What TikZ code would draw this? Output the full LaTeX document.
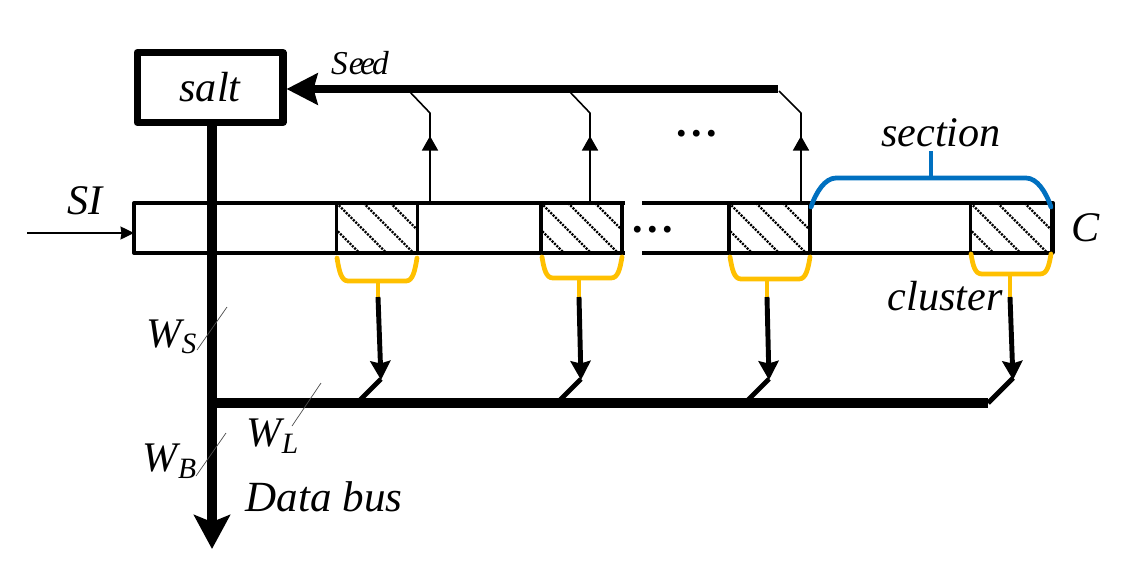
\documentclass[tikz,border=0pt]{standalone}
\usepackage{fontspec}
\setmainfont{Liberation Serif}
\usetikzlibrary{arrows.meta}
\definecolor{clyellow}{RGB}{255,192,0}
\definecolor{secblue}{RGB}{0,112,192}

\begin{document}
\begin{tikzpicture}[x=0.02cm,y=-0.02cm,line join=round,
  lbl/.style={font=\fontsize{24}{28}\selectfont\itshape,inner sep=0pt},
  dotlbl/.style={font=\fontsize{24}{28}\selectfont\bfseries,inner sep=0pt},
  reg/.style={line width=1.9},
  thin/.style={line width=0.9},
  mainbus/.style={line width=5.2},
  tap/.style={line width=2.8},
  slash/.style={line width=0.4,black!70},
  ybrace/.style={line width=2.7,clyellow,line cap=round},
  bbrace/.style={line width=2.7,secblue,line cap=round},
  cell/.style={draw,line width=1.9,minimum width=1.62cm,minimum height=1cm,inner sep=0pt,outer sep=0pt,
    path picture={\foreach \d in {-27,0,27,54}{
      \draw[line width=1.3,dash pattern=on 1.2pt off 0.7pt]
        ([xshift=\d*0.02cm]path picture bounding box.north west) -- ++(70,70);}}}]
\useasboundingbox (0,0) rectangle (1142,582);
% register, broken in the middle
\coordinate (regtl) at (134,203);
\coordinate (regbl) at (134,253);
\coordinate (regtr) at (1053,203);
\coordinate (regbr) at (1053,253);
\draw[reg] (625,203) -- (regtl) -- (regbl) -- (625,253);
\draw[reg] (642,203) -- (regtr) -- (regbr) -- (642,253);
\node[cell] (cell1) at (377,228) {};
\node[cell] (cell2) at (581.5,228) {};
\node[cell] (cell3) at (769.5,228) {};
\node[cell] (cell4) at (1011,228) {};
% salt box and the two thick buses
\node[draw,line width=4,minimum width=2.92cm,minimum height=1.4cm,inner sep=0pt,font=\fontsize{24}{28}\selectfont\itshape] (salt) at (210,87.5) {salt};
\coordinate (busend) at (212,549);
\coordinate (busjoint) at (212,403);
\coordinate (lineend) at (988,403);
\coordinate (seedend) at (778,89);
\draw[mainbus,-{Stealth[length=0.68cm,width=0.72cm,inset=0.14cm]}] (212,119) -- (busend);
\draw[mainbus] (busjoint) -- (lineend);
\draw[line width=4,-{Stealth[length=0.62cm,width=0.62cm,inset=0.08cm]}] (seedend) -- (salt.east |- seedend);
% yellow clusters and read side
\foreach \i/\lx/\rx/\ty/\by/\ax/\ex in {1/337/417/258/281/378/381,2/542/622/257/278/579/581,3/730/810/257/279/767/769,4/971/1051/254/274/1010/1013}{
  \coordinate (cbase\i) at (\ax,\by);
  \coordinate (cstem\i) at (\ax,297);
  \coordinate (ctip\i) at (\ex,380);
  \draw[ybrace] (\lx,\ty) .. controls (\lx+2,\ty+12) and (\lx+4,\by) .. (\lx+11,\by) -- (\rx-11,\by) .. controls (\rx-4,\by) and (\rx-2,\ty+12) .. (\rx,\ty);
  \draw[ybrace,line cap=butt] (cbase\i) -- (cstem\i);
  \draw[tap,-{Stealth[length=0.38cm,width=0.4cm,inset=0.05cm]}] (cstem\i) -- (ctip\i);
}
% seed taps
\foreach \sx/\cx in {409/430,569/590,779/801}{
  \coordinate (tapbase) at (\cx,203);
  \draw[thin,-{Stealth[length=0.29cm,width=0.32cm,inset=0pt]}] (tapbase) -- (\cx,136);
  \draw[thin] (\cx,140) -- (\cx,113) -- (\sx,91);
}
\foreach \ex/\jx in {381/357,581/557,769/745}{
  \draw[tap] (\ex,379) -- (\jx,403);
}
\draw[tap] (lineend) -- (1013,378);
% section brace
\coordinate (secstem) at (931,178);
\coordinate (sectop) at (931,151);
\draw[bbrace] (811,207) .. controls (816,192) and (825,178) .. (836,178) -- (1026,178) .. controls (1037,178) and (1046,192) .. (1051,207);
\draw[bbrace,line cap=butt] (secstem) -- (sectop);
% input arrow
\coordinate (sistart) at (27,233);
\draw[line width=0.8,-{Stealth[length=0.27cm,width=0.26cm,inset=0.02cm]}] (sistart) -- (134,233);
% width marks
\draw[slash] (197,350) -- (227,307);
\draw[slash] (292,426) -- (321,383);
\draw[slash] (196,476) -- (226,433);
% labels
\node[lbl] (silabel) at (85,201) {SI};
\node[lbl,font=\fontsize{19}{22}\selectfont\itshape] (seedlabel) at (360,63) {S\kern0.5pt e\kern-2pt e\kern-1.6pt d};
\node[lbl] (seclabel) at (941,133) {section};
\node[lbl] (cllabel) at (945,296) {cluster};
\node[lbl] (clabel) at (1086,228) {C};
\node[lbl,font=\fontsize{24.5}{28}\selectfont\itshape] (dbus) at (324,497) {Data bus};
\node[lbl] (wslabel) at (172,337) {W$_{\mathit{S}}$};
\node[lbl] (wllabel) at (273,436) {W$_{\mathit{L}}$};
\node[lbl] (wblabel) at (170,461) {W$_{\mathit{B}}$};
\node[dotlbl] (dotsa) at (697,134) {.\kern2.6pt.\kern2.6pt.};
\node[dotlbl] (dotsb) at (653,230) {.\kern2.6pt.\kern2.6pt.};
\end{tikzpicture}
\end{document}
